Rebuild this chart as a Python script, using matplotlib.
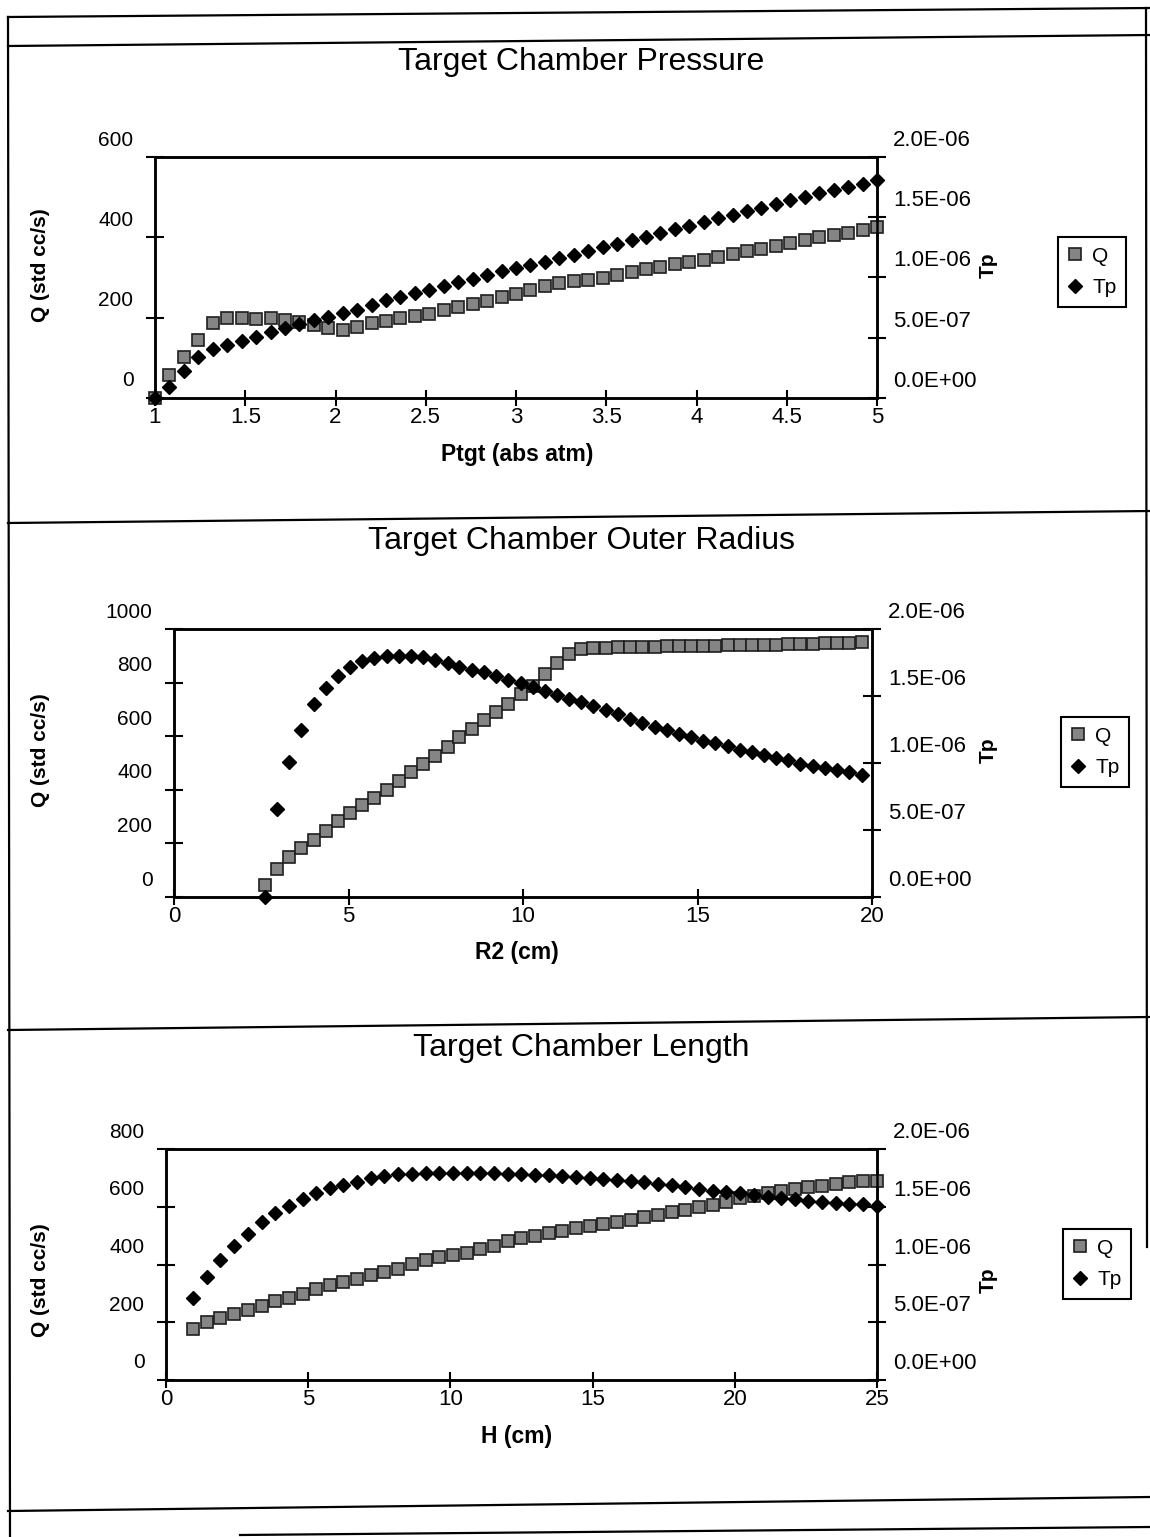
import numpy as np
import matplotlib
matplotlib.use('Agg')
import matplotlib.pyplot as plt
from matplotlib.lines import Line2D
from matplotlib import transforms

plt.rcParams['font.family'] = ['Liberation Sans', 'DejaVu Sans']

## ---- data ----
# panel 1: Target Chamber Pressure
ptgt = [1.00, 1.08, 1.16, 1.24, 1.32, 1.40, 1.48, 1.56, 1.64, 1.72,
        1.80, 1.88, 1.96, 2.04, 2.12, 2.20, 2.28, 2.36, 2.44, 2.52,
        2.60, 2.68, 2.76, 2.84, 2.92, 3.00, 3.08, 3.16, 3.24, 3.32,
        3.40, 3.48, 3.56, 3.64, 3.72, 3.80, 3.88, 3.96, 4.04, 4.12,
        4.20, 4.28, 4.36, 4.44, 4.52, 4.60, 4.68, 4.76, 4.84, 4.92,
        5.00]
q_ptgt = [0, 58, 102, 144, 186, 200, 198, 197, 199, 194,
          188, 181, 174, 170, 176, 186, 192, 198, 204, 210,
          218, 226, 234, 242, 251, 260, 270, 279, 286, 291,
          294, 298, 306, 314, 321, 327, 333, 339, 344, 351,
          358, 365, 372, 379, 386, 393, 400, 406, 412, 418,
          426]
tp_ptgt = [0.0, 0.09, 0.22, 0.34, 0.405, 0.44, 0.475, 0.505, 0.545, 0.577,   # x1e-6
           0.615, 0.645, 0.672, 0.705, 0.73, 0.77, 0.81, 0.84, 0.87, 0.90,
           0.93, 0.96, 0.99, 1.02, 1.05, 1.08, 1.105, 1.13, 1.16, 1.19,
           1.22, 1.25, 1.28, 1.31, 1.34, 1.37, 1.40, 1.43, 1.46, 1.49,
           1.52, 1.55, 1.58, 1.61, 1.64, 1.67, 1.70, 1.73, 1.755, 1.78,
           1.81]

# panel 2: Target Chamber Outer Radius
r2 = [2.60, 2.95, 3.30, 3.65, 4.00, 4.35, 4.69, 5.04, 5.39, 5.74,
      6.09, 6.44, 6.79, 7.14, 7.49, 7.84, 8.18, 8.53, 8.88, 9.23,
      9.58, 9.93, 10.28, 10.63, 10.98, 11.33, 11.67, 12.02, 12.37, 12.72,
      13.07, 13.42, 13.77, 14.12, 14.46, 14.81, 15.16, 15.51, 15.86, 16.21,
      16.56, 16.91, 17.26, 17.60, 17.95, 18.30, 18.65, 19.00, 19.35, 19.70]
q_r2 = [45, 104, 150, 181, 212, 246, 282, 313, 345, 371,
        401, 431, 466, 497, 527, 561, 596, 627, 660, 692,
        720, 758, 789, 832, 872, 906, 925, 929, 930, 931,
        932, 933, 934, 935, 936, 936, 937, 938, 939, 939,
        940, 941, 942, 943, 944, 945, 946, 947, 949, 951]
tp_r2 = [0.0, 0.66, 1.01, 1.25, 1.44, 1.56, 1.65, 1.72, 1.76, 1.785,
         1.797, 1.80, 1.80, 1.79, 1.77, 1.747, 1.72, 1.696, 1.676, 1.65,
         1.622, 1.60, 1.568, 1.54, 1.508, 1.48, 1.455, 1.425, 1.395, 1.365,
         1.33, 1.30, 1.27, 1.245, 1.22, 1.195, 1.165, 1.15, 1.125, 1.10,
         1.085, 1.06, 1.04, 1.02, 0.995, 0.98, 0.96, 0.945, 0.93, 0.91]

# panel 3: Target Chamber Length
hgt = [0.95, 1.43, 1.91, 2.39, 2.87, 3.36, 3.84, 4.32, 4.80, 5.28,
       5.76, 6.24, 6.72, 7.20, 7.68, 8.16, 8.65, 9.13, 9.61, 10.09,
       10.57, 11.05, 11.53, 12.01, 12.49, 12.97, 13.45, 13.94, 14.42, 14.90,
       15.38, 15.86, 16.34, 16.82, 17.30, 17.78, 18.26, 18.74, 19.22, 19.70,
       20.19, 20.67, 21.15, 21.63, 22.11, 22.59, 23.07, 23.55, 24.03, 24.51,
       24.99]
q_hgt = [177, 200, 215, 227, 243, 258, 272, 285, 299, 316,
         329, 340, 351, 363, 374, 386, 401, 416, 425, 432,
         440, 455, 463, 480, 492, 499, 508, 517, 526, 535,
         541, 548, 555, 563, 572, 581, 589, 598, 607, 618,
         630, 638, 647, 655, 661, 668, 673, 679, 685, 688,
         690]
tp_hgt = [0.71, 0.89, 1.04, 1.16, 1.265, 1.365, 1.445, 1.51, 1.57, 1.62,
          1.66, 1.69, 1.715, 1.75, 1.77, 1.78, 1.787, 1.795, 1.796, 1.795,
          1.794, 1.793, 1.792, 1.786, 1.784, 1.778, 1.776, 1.768, 1.758, 1.745,
          1.736, 1.733, 1.72, 1.71, 1.70, 1.686, 1.670, 1.654, 1.640, 1.626,
          1.622, 1.60, 1.587, 1.578, 1.566, 1.553, 1.539, 1.535, 1.525, 1.521,
          1.505]

tp_ticks = [0.0, 0.5e-6, 1.0e-6, 1.5e-6, 2.0e-6]
tp_labels = ['0.0E+00', '5.0E-07', '1.0E-06', '1.5E-06', '2.0E-06']

W, H = 1150, 1537          ## output size in px

def fx(px):
    return px / W

def fy(py):
    return 1 - py / H

fig = plt.figure(figsize=(W / 100, H / 100), dpi=100)

## page ruling of the scanned sheet
page = fig.add_axes([0, 0, 1, 1])
page.set_xlim(0, W)
page.set_ylim(H, 0)
page.axis('off')
rules = [((8, 1150), (17, 8)), ((8, 1150), (46, 35)), ((8, 10), (17, 1537)),
         ((1146, 1147), (8, 1247)), ((8, 1150), (523, 511)),
         ((8, 1150), (1030, 1017)), ((8, 1150), (1511, 1497)),
         ((240, 1150), (1535, 1527))]
for xs, ys in rules:
    page.plot(xs, ys, color='black', lw=1.6)

panels = [
    dict(title='Target Chamber Pressure', xlabel='Ptgt (abs atm)',
         x=ptgt, q=q_ptgt, tp=tp_ptgt, xlim=(1, 5),
         xticks=[1, 1.5, 2, 2.5, 3, 3.5, 4, 4.5, 5],
         xtl=['1', '1.5', '2', '2.5', '3', '3.5', '4', '4.5', '5'],
         qmax=600, qticks=[0, 200, 400, 600],
         box=(155, 157, 877, 398), ttl_y=62, xl_y=455, yl_y=265, leg_y=272, leg_x=1092),
    dict(title='Target Chamber Outer Radius', xlabel='R2 (cm)',
         x=r2, q=q_r2, tp=tp_r2, xlim=(0, 20),
         xticks=[0, 5, 10, 15, 20], xtl=['0', '5', '10', '15', '20'],
         qmax=1000, qticks=[0, 200, 400, 600, 800, 1000],
         box=(174, 629, 872, 897), ttl_y=541, xl_y=952, yl_y=750, leg_y=752, leg_x=1095),
    dict(title='Target Chamber Length', xlabel='H (cm)',
         x=hgt, q=q_hgt, tp=tp_hgt, xlim=(0, 25),
         xticks=[0, 5, 10, 15, 20, 25], xtl=['0', '5', '10', '15', '20', '25'],
         qmax=800, qticks=[0, 200, 400, 600, 800],
         box=(166, 1149, 877, 1380), ttl_y=1048, xl_y=1437, yl_y=1280, leg_y=1264, leg_x=1097),
]

sq = dict(ls='none', marker='s', ms=8, mfc='#858585', mec='#1e1e1e', mew=1.2)
dm = dict(ls='none', marker='D', ms=7.5, color='black')
shift = transforms.ScaledTranslation(0, 0.19, fig.dpi_scale_trans)   ## labels sit above ticks on the scan

for p in panels:
    l, t, r, b = p['box']
    ax = fig.add_axes([fx(l), fy(b), (r - l) / W, (b - t) / H])
    ax2 = ax.twinx()
    ax.plot(p['x'], p['q'], clip_on=False, zorder=3, **sq)
    ax2.plot(p['x'], np.array(p['tp']) * 1e-6, clip_on=False, zorder=4, **dm)

    ax.set_xlim(*p['xlim'])
    ax.set_ylim(0, p['qmax'])
    ax2.set_ylim(0, 2e-6)
    ax.set_xticks(p['xticks'])
    ax.set_xticklabels(p['xtl'])
    ax.set_yticks(p['qticks'])
    ax.set_yticklabels([str(v) for v in p['qticks']])
    ax2.set_yticks(tp_ticks)
    ax2.set_yticklabels(tp_labels)

    for a in (ax, ax2):
        for s in a.spines.values():
            s.set_linewidth(1.8)
    ax.tick_params(axis='x', direction='inout', length=11, width=1.5, labelsize=16, pad=1)
    ax.tick_params(axis='y', direction='inout', length=13, width=1.5, labelsize=15, pad=9)
    ax2.tick_params(axis='y', direction='inout', length=13, width=1.5, labelsize=16, pad=5)
    for lab in ax.get_yticklabels() + ax2.get_yticklabels():
        lab.set_transform(lab.get_transform() + shift)

    fig.text(fx(581), fy(p['ttl_y']), p['title'], ha='center', va='center', fontsize=23)
    fig.text(fx(517), fy(p['xl_y']), p['xlabel'], ha='center', va='center',
             fontsize=16.5, fontweight='bold')
    fig.text(fx(40), fy(p['yl_y']), 'Q (std cc/s)', ha='center', va='center',
             rotation=90, fontsize=15, fontweight='bold')
    fig.text(fx(988), fy(p['yl_y']), 'Tp', ha='center', va='center',
             rotation=90, fontsize=15, fontweight='bold')

    handles = [Line2D([], [], **sq), Line2D([], [], **dm)]
    leg = fig.legend(handles, ['Q', 'Tp'], loc='center',
                     bbox_to_anchor=(fx(p['leg_x']), fy(p['leg_y'])),
                     frameon=True, fancybox=False, edgecolor='black', framealpha=1,
                     fontsize=15, handlelength=0.7, handletextpad=0.5,
                     borderpad=0.45, labelspacing=0.6)
    leg.get_frame().set_linewidth(1.5)

plt.savefig('out.png', dpi=100)
